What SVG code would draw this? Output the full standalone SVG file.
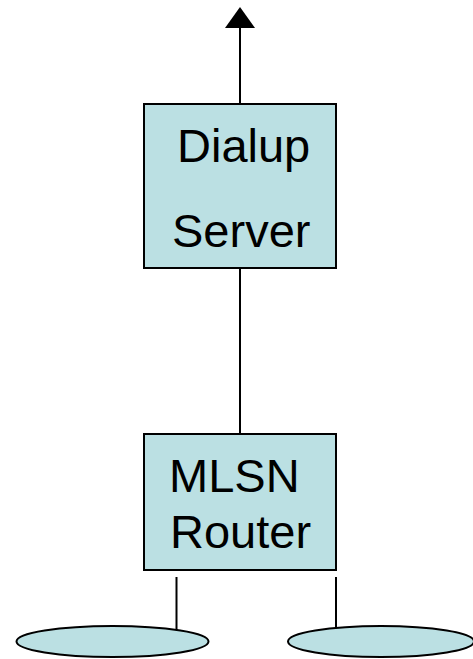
<svg xmlns="http://www.w3.org/2000/svg" width="473" height="659" viewBox="0 0 473 659">
<style>
.box{fill:#BBE0E3;stroke:#000;stroke-width:2}
.lan{fill:#BBE0E3;stroke:#000;stroke-width:2}
.lbl{font-family:"Liberation Sans",Arial,sans-serif;font-size:47px;fill:#000}
.conn{stroke:#000;stroke-width:2;fill:none}
</style>
<g id="connectors">
<line class="conn" x1="240" y1="104" x2="240" y2="27"/>
<polygon points="240,7 255,28 225,28" fill="#000"/>
<line class="conn" x1="240" y1="268" x2="240" y2="434"/>
<line class="conn" x1="176.5" y1="577" x2="176.5" y2="630"/>
<line class="conn" x1="336" y1="577" x2="336" y2="628"/>
</g>
<g id="dialup-server">
<rect class="box" x="144" y="104" width="192" height="164"/>
<text class="lbl" x="177" y="162">Dialup</text>
<text class="lbl" x="172" y="247">Server</text>
</g>
<g id="mlsn-router">
<rect class="box" x="144" y="434" width="192" height="136"/>
<text class="lbl" x="169" y="492">MLSN</text>
<text class="lbl" x="170" y="548">Router</text>
</g>
<g id="lan-left">
<ellipse class="lan" cx="112.5" cy="641.5" rx="96" ry="15.5"/>
</g>
<g id="lan-right">
<ellipse class="lan" cx="381" cy="641.5" rx="93" ry="15.5"/>
</g>
</svg>
